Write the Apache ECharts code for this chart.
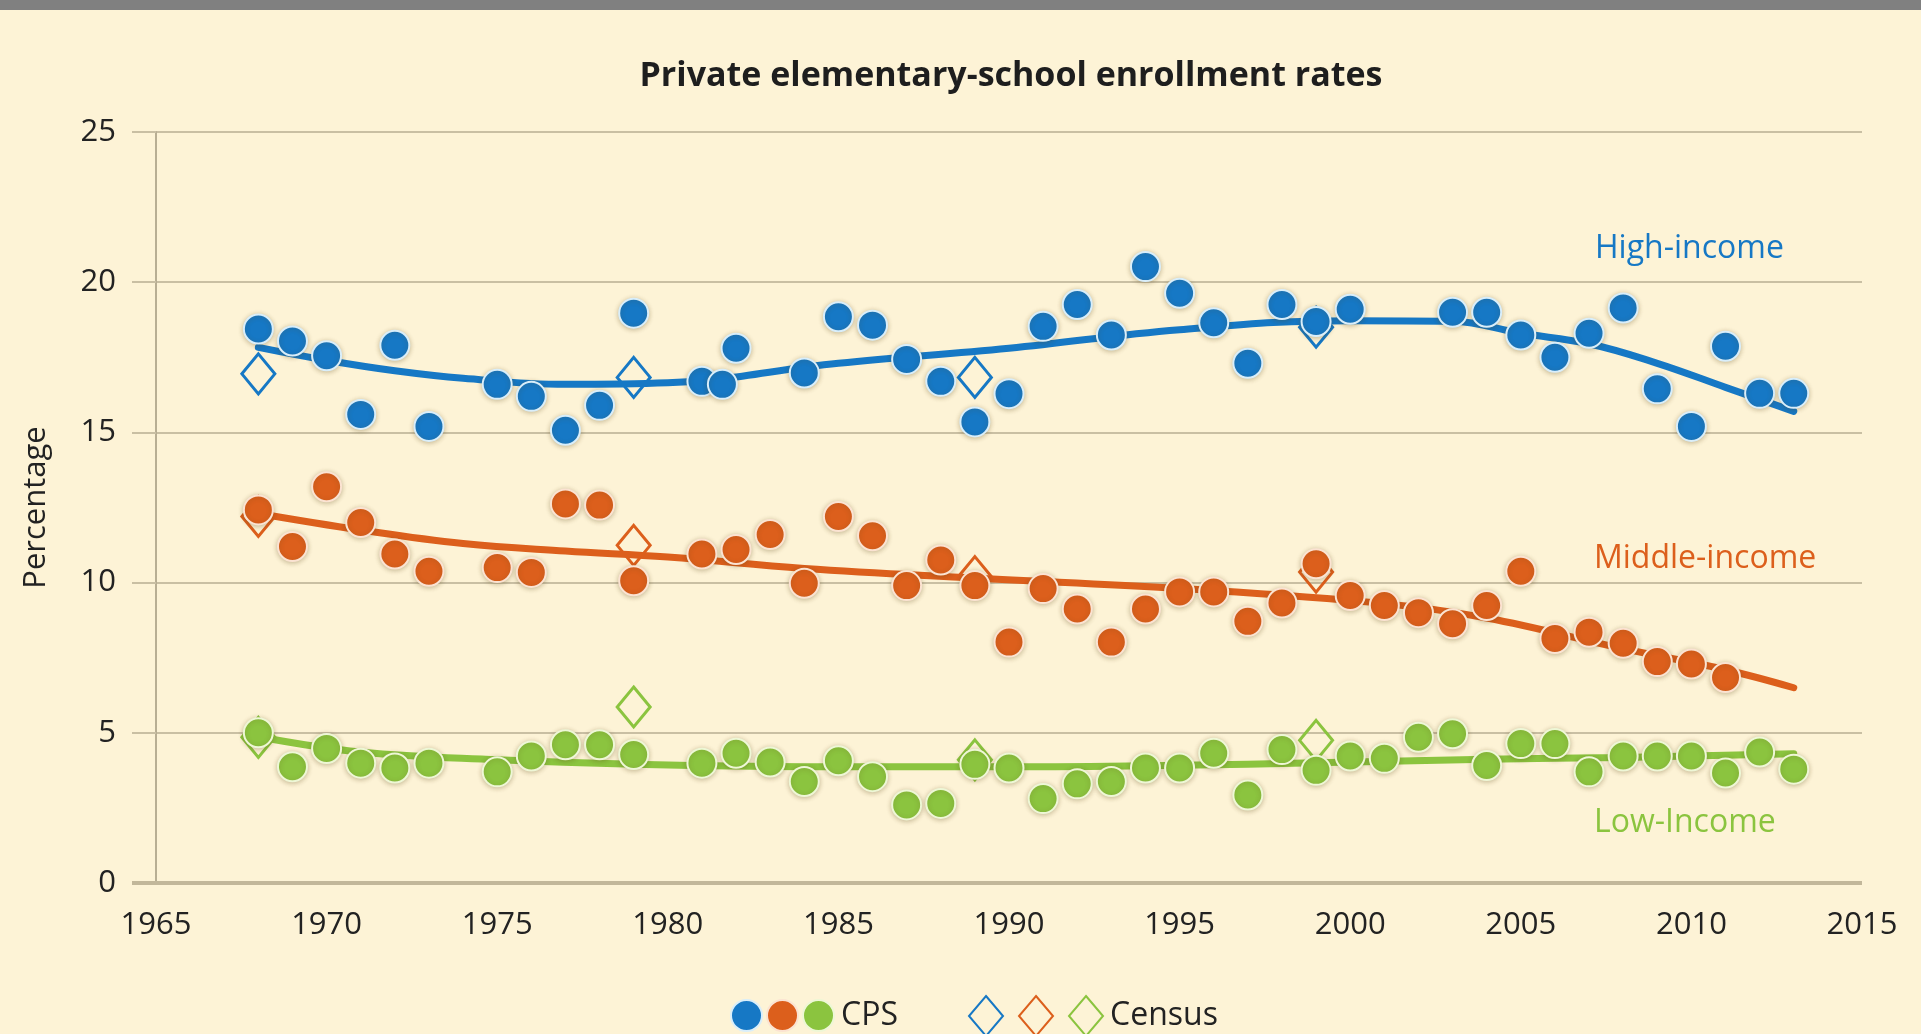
<!DOCTYPE html>
<html>
<head>
<meta charset="utf-8">
<title>Private elementary-school enrollment rates</title>
<script src="https://cdn.jsdelivr.net/npm/echarts/dist/echarts.min.js"></script>
<style>
    html, body { margin: 0; padding: 0; background: #fdf3d6; }
    #chart { width: 1921px; height: 1034px; }
</style>
</head>
<body>
<div id="chart"></div>
<script>
var highYears = [1968, 1969, 1970, 1971, 1972, 1973, 1975, 1976, 1977, 1978, 1979, 1981, 1981.6, 1982, 1984, 1985, 1986, 1987, 1988, 1989, 1990, 1991, 1992, 1993, 1994, 1995, 1996, 1997, 1998, 1999, 2000, 2003, 2004, 2005, 2006, 2007, 2008, 2009, 2010, 2011, 2012, 2013];
var highCps = [18.44, 18.04, 17.55, 15.6, 17.9, 15.2, 16.6, 16.2, 15.07, 15.9, 18.97, 16.7, 16.6, 17.8, 16.98, 18.85, 18.57, 17.43, 16.7, 15.35, 16.29, 18.53, 19.26, 18.24, 20.52, 19.63, 18.65, 17.3, 19.26, 18.69, 19.1, 19.0, 19.0, 18.24, 17.5, 18.3, 19.14, 16.45, 15.2, 17.87, 16.3, 16.3];

var middleYears = [1968, 1969, 1970, 1971, 1972, 1973, 1975, 1976, 1977, 1978, 1979, 1981, 1982, 1983, 1984, 1985, 1986, 1987, 1988, 1989, 1990, 1991, 1992, 1993, 1994, 1995, 1996, 1997, 1998, 1999, 2000, 2001, 2002, 2003, 2004, 2005, 2006, 2007, 2008, 2009, 2010, 2011];
var middleCps = [12.42, 11.2, 13.19, 12.0, 10.95, 10.38, 10.5, 10.34, 12.62, 12.58, 10.06, 10.95, 11.1, 11.6, 9.98, 12.2, 11.56, 9.9, 10.75, 9.9, 8.02, 9.8, 9.12, 8.02, 9.12, 9.69, 9.69, 8.71, 9.32, 10.63, 9.57, 9.24, 9.0, 8.63, 9.24, 10.38, 8.14, 8.35, 7.98, 7.37, 7.29, 6.84];

var lowYears = [1968, 1969, 1970, 1971, 1972, 1973, 1975, 1976, 1977, 1978, 1979, 1981, 1982, 1983, 1984, 1985, 1986, 1987, 1988, 1989, 1990, 1991, 1992, 1993, 1994, 1995, 1996, 1997, 1998, 1999, 2000, 2001, 2002, 2003, 2004, 2005, 2006, 2007, 2008, 2009, 2010, 2011, 2012, 2013];
var lowCps = [5.0, 3.87, 4.48, 3.99, 3.83, 3.99, 3.7, 4.23, 4.6, 4.6, 4.28, 3.99, 4.32, 4.03, 3.38, 4.07, 3.54, 2.6, 2.65, 3.95, 3.83, 2.81, 3.3, 3.38, 3.83, 3.83, 4.32, 2.93, 4.44, 3.75, 4.23, 4.15, 4.85, 4.97, 3.91, 4.64, 4.64, 3.7, 4.23, 4.23, 4.23, 3.66, 4.36, 3.79];

// Census observations
var censusYears = [1968, 1979, 1989, 1999];
var highCensus = [16.95, 16.83, 16.83, 18.5];
var middleCensus = [12.2, 11.24, 10.2, 10.35];
var lowCensus = [4.85, 5.86, 4.1, 4.75];

// smoothed trend lines
var highTrendYears = [1968, 1970, 1972, 1974, 1977, 1980, 1985, 1990, 1995, 2000, 2003, 2005, 2007, 2009, 2011, 2013];
var highTrend = [17.83, 17.4, 17.05, 16.8, 16.6, 16.65, 17.3, 17.8, 18.42, 18.72, 18.7, 18.3, 17.95, 17.3, 16.5, 15.7];
var middleTrendYears = [1968, 1971, 1974, 1977, 1980, 1984, 1989, 1995, 2001, 2004, 2008, 2011, 2013];
var middleTrend = [12.3, 11.75, 11.3, 11.05, 10.85, 10.47, 10.15, 9.8, 9.3, 8.82, 7.8, 7.1, 6.5];
var lowTrendYears = [1968, 1971, 1975, 1979, 1984, 1990, 1995, 1999, 2004, 2008, 2013];
var lowTrend = [4.87, 4.36, 4.1, 3.95, 3.87, 3.87, 3.92, 4.0, 4.12, 4.18, 4.3];

var xTicks = [1965, 1970, 1975, 1980, 1985, 1990, 1995, 2000, 2005, 2010, 2015];
var yTicks = [0, 5, 10, 15, 20, 25];

var BLUE = '#1678c5', ORANGE = '#dc5f1c', GREEN = '#8bc43f';
var FONT = 'Open Sans';

function pairs(xs, ys) {
    return xs.map(function (x, i) { return [x, ys[i]]; });
}

function cpsSeries(name, xs, ys, color, rim) {
    return {
        name: name,
        type: 'scatter',
        symbol: 'circle',
        symbolSize: 29,
        z: 4,
        data: pairs(xs, ys),
        itemStyle: {
            color: color,
            opacity: 1,
            borderColor: rim,
            borderWidth: 2,
            shadowBlur: 5,
            shadowColor: 'rgba(90, 70, 20, 0.3)',
            shadowOffsetY: 1
        }
    };
}

function censusSeries(name, xs, ys, color) {
    return {
        name: name,
        type: 'scatter',
        symbol: 'diamond',
        symbolSize: [33, 40],
        z: 3,
        data: pairs(xs, ys),
        itemStyle: {
            color: 'rgba(0,0,0,0)',
            opacity: 1,
            borderColor: color,
            borderWidth: 3
        }
    };
}

function trendSeries(name, xs, ys, color) {
    return {
        name: name,
        type: 'line',
        smooth: 0.4,
        showSymbol: false,
        symbol: 'none',
        z: 2,
        silent: true,
        data: pairs(xs, ys),
        lineStyle: { color: color, width: 7, cap: 'round' }
    };
}

var chat = echarts.init(document.getElementById('chart'));
var axisText = { color: '#222', fontSize: 31, fontFamily: FONT };
var gridLine = { color: '#c9bfa3', width: 2 };

chat.setOption({
    backgroundColor: '#fdf3d6',
    animation: false,
    title: {
        text: 'Private elementary-school enrollment rates',
        left: 1006,
        textAlign: 'center',
        top: 54,
        textStyle: { color: '#1e1e1e', fontSize: 34, fontWeight: 'bold', fontFamily: FONT }
    },
    grid: { left: 156, right: 59, top: 132, bottom: 151 },
    legend: [
        {
            data: [
                { name: 'High-income CPS', icon: 'circle' },
                { name: 'Middle-income CPS', icon: 'circle' },
                { name: 'Low-income CPS', icon: 'circle' }
            ],
            left: 725,
            top: 994,
            itemWidth: 31,
            itemHeight: 31,
            itemGap: 3,
            symbolKeepAspect: false,
            formatter: function (n) { return n === 'Low-income CPS' ? 'CPS' : ''; },
            textStyle: { color: '#222', fontSize: 32, fontFamily: FONT, padding: [0, 0, 0, 2] }
        },
        {
            data: [
                { name: 'High-income Census', icon: 'diamond' },
                { name: 'Middle-income Census', icon: 'diamond' },
                { name: 'Low-income Census', icon: 'diamond' }
            ],
            left: 963,
            top: 990,
            itemWidth: 34,
            itemHeight: 40,
            itemGap: 14,
            symbolKeepAspect: false,
            formatter: function (n) { return n === 'Low-income Census' ? 'Census' : ''; },
            textStyle: { color: '#222', fontSize: 32, fontFamily: FONT, padding: [0, 0, 0, 2] }
        }
    ],
    xAxis: {
        type: 'value',
        min: xTicks[0],
        max: xTicks[xTicks.length - 1],
        interval: 5,
        axisLine: { show: false },
        axisTick: { show: false },
        splitLine: { show: false },
        axisLabel: Object.assign({ margin: 27, formatter: function (v) { return String(v); } }, axisText)
    },
    yAxis: {
        type: 'value',
        min: yTicks[0],
        max: yTicks[yTicks.length - 1],
        interval: 5,
        name: 'Percentage',
        nameLocation: 'middle',
        nameGap: 104,
        nameRotate: 90,
        nameTextStyle: { color: '#222', fontSize: 31, fontFamily: FONT },
        axisLine: { show: true, lineStyle: { color: '#b8ae93', width: 2 } },
        axisTick: { show: true, length: 24, lineStyle: gridLine },
        splitLine: { show: true, lineStyle: gridLine },
        axisLabel: Object.assign({ margin: 40 }, axisText)
    },
    graphic: [
        { type: 'rect', left: 0, top: 0, shape: { width: 1921, height: 10 }, style: { fill: '#808080' } },
        { type: 'line', shape: { x1: 132, y1: 883, x2: 1862, y2: 883 }, style: { stroke: '#c2b79a', lineWidth: 4 }, z: 1 },
        { type: 'text', x: 1595, y: 249, style: { text: 'High-income', fill: BLUE, fontSize: 32, fontFamily: FONT, verticalAlign: 'middle' } },
        { type: 'text', x: 1594, y: 559, style: { text: 'Middle-income', fill: ORANGE, fontSize: 32, fontFamily: FONT, verticalAlign: 'middle' } },
        { type: 'text', x: 1594, y: 823, style: { text: 'Low-Income', fill: GREEN, fontSize: 32, fontFamily: FONT, verticalAlign: 'middle' } }
    ],
    series: [
        trendSeries('High-income trend', highTrendYears, highTrend, BLUE),
        trendSeries('Middle-income trend', middleTrendYears, middleTrend, ORANGE),
        trendSeries('Low-income trend', lowTrendYears, lowTrend, GREEN),
        censusSeries('High-income Census', censusYears, highCensus, BLUE),
        censusSeries('Middle-income Census', censusYears, middleCensus, ORANGE),
        censusSeries('Low-income Census', censusYears, lowCensus, GREEN),
        cpsSeries('High-income CPS', highYears, highCps, BLUE, '#d9eefa'),
        cpsSeries('Middle-income CPS', middleYears, middleCps, ORANGE, '#fbe3d2'),
        cpsSeries('Low-income CPS', lowYears, lowCps, GREEN, '#eef7d6')
    ]
});

window.addEventListener('resize', function () {
    chat.resize();
});
</script>
</body>
</html>
